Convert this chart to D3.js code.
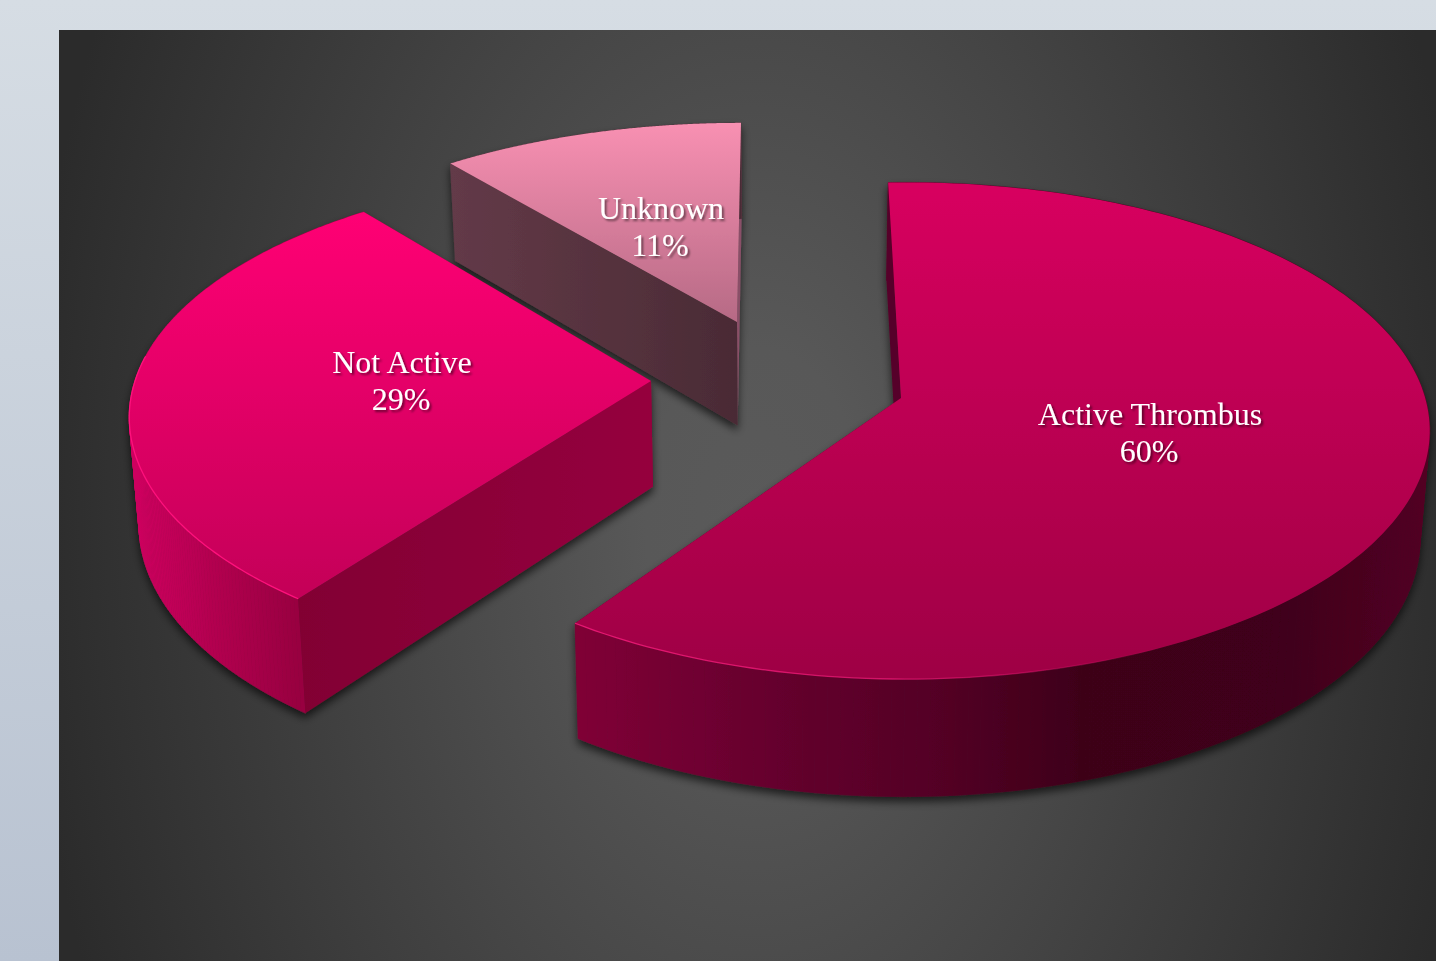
<!DOCTYPE html>
<html>
<head>
<meta charset="utf-8">
<script src="https://cdn.jsdelivr.net/npm/d3@7/dist/d3.min.js"></script>
<style>
  html, body { margin: 0; padding: 0; background: #d0d7e0; overflow: hidden; }
  svg { display: block; }
  text { font-family: "Liberation Serif", "Times New Roman", serif; fill: #fff; }
</style>
</head>
<body>
<svg id="chart" width="1436" height="961"></svg>
<script>
// Chart values
const categories = ["Active Thrombus", "Not Active", "Unknown"];
const shares = [60, 29, 11];

// Drawing styles for each slice, in the order of the categories
const sliceStyles = [
  { apex: [901, 398], center: [906, 391], R: 517, Rf: 242, turn: -0.8,
    top: ["#d8005f", "#9e0044"], topSpan: [182, 680],
    rim: "#f01a78", rimFade: [[576, 0.9], [900, 0.7], [1180, 0]],
    wall: [[576, "#800036"], [800, "#62002c"], [950, "#520024"], [1080, "#3e0019"], [1280, "#3f001a"], [1425, "#520023"]],
    startWall: "#560029", endWall: "#560029", label: [1150, 425] },
  { apex: [651, 381], center: [652, 378], R: 516, Rf: 240, turn: 2.2,
    top: ["#ff0074", "#c40058"], topSpan: [213, 597],
    rim: "#ff107c", rimFade: [[128, 1], [300, 1]],
    wall: [[130, "#d00060"], [210, "#b40050"], [300, "#980040"]],
    startWall: ["#820033", "#95003e"], endWall: "#820033", label: [402, 373] },
  { apex: [737, 322], center: [741, 322], R: 512, Rf: 231, turn: 1.5,
    top: ["#f890b2", "#b66a85"], topSpan: [123, 322],
    rim: "#f79ab8", rimFade: [[449, 0], [740, 0]],
    wall: [[449, "#633a48"], [740, "#4a2b35"]],
    startWall: ["#633a48", "#4a2b35"], endWall: "#8a5068", label: [661, 219] }
];

const startDegrees = -1.5;
const perspective = 0.16;   // how quickly the disc grows towards the viewer
const lineGap = 37;
const radians = Math.PI / 180;

const slices = d3.pie().sort(null)
  .startAngle(startDegrees * radians)
  .endAngle((startDegrees + 360) * radians)(shares);

// Point on the rim of a slice's top face
function topPoint(style, angle) {
  const u = Math.sin(angle);
  const v = -Math.cos(angle);
  const s = 1 / (1 - perspective * v);
  return [style.center[0] + style.R * u * s, style.center[1] + style.Rf * v * s];
}
// The matching point on the underside; verticals converge slightly downward
const dropX = d3.scaleLinear().domain([0, 780]).range([11.7, 780]);
const dropY = d3.scaleLinear().domain([0, 1000]).range([91, 1130]);
const under = ([x, y]) => [dropX(x), dropY(y)];

const svg = d3.select("#chart");
const defs = svg.append("defs");

// Page backdrop
const page = defs.append("linearGradient").attr("id", "page")
  .attr("x1", 0).attr("y1", 0).attr("x2", 0).attr("y2", 1);
page.append("stop").attr("offset", 0).attr("stop-color", "#d6dde4");
page.append("stop").attr("offset", 1).attr("stop-color", "#b8c2d1");

const panel = defs.append("radialGradient").attr("id", "panel")
  .attr("gradientUnits", "userSpaceOnUse")
  .attr("cx", 0).attr("cy", 0).attr("r", 1)
  .attr("gradientTransform", "translate(755,520) scale(730,1150)");
panel.append("stop").attr("offset", 0).attr("stop-color", "#5a5a5a");
panel.append("stop").attr("offset", 0.15).attr("stop-color", "#585858");
panel.append("stop").attr("offset", 1).attr("stop-color", "#2b2b2b");

const shadow = defs.append("filter").attr("id", "shadow")
  .attr("x", "-10%").attr("y", "-10%").attr("width", "120%").attr("height", "125%");
shadow.append("feDropShadow").attr("dx", 0).attr("dy", 5)
  .attr("stdDeviation", 4).attr("flood-color", "#000").attr("flood-opacity", 0.65);

const textShadow = defs.append("filter").attr("id", "textShadow")
  .attr("x", "-10%").attr("y", "-20%").attr("width", "120%").attr("height", "150%");
textShadow.append("feDropShadow").attr("dx", 2).attr("dy", 2)
  .attr("stdDeviation", 1).attr("flood-color", "#000").attr("flood-opacity", 0.5);

function linear(id, x1, y1, x2, y2, stops) {
  const g = defs.append("linearGradient").attr("id", id)
    .attr("gradientUnits", "userSpaceOnUse")
    .attr("x1", x1).attr("y1", y1).attr("x2", x2).attr("y2", y2);
  stops.forEach(([o, c, a = 1]) => g.append("stop").attr("offset", o)
    .attr("stop-color", c).attr("stop-opacity", a));
  return `url(#${id})`;
}

svg.append("rect").attr("width", 1436).attr("height", 961).attr("fill", "url(#page)");
svg.append("rect").attr("x", 59).attr("y", 30).attr("width", 1377).attr("height", 931)
  .attr("fill", "url(#panel)");

const line = d3.line();

// Whether a cut face, with its outward normal at this angle, looks towards the viewer
const facesViewer = normalAngle => -Math.cos(normalAngle) > 0;

// Back to front: the smallest slice sits furthest from the viewer
const order = [2, 1, 0];
order.forEach(i => {
  const d = slices[i];
  const style = sliceStyles[i];
  const a0 = d.startAngle + style.turn * radians;
  const a1 = d.endAngle + style.turn * radians;
  const angles = d3.range(0, 181).map(t => a0 + (a1 - a0) * t / 180);
  const rimPts = angles.map(a => topPoint(style, a));
  const g = svg.append("g").attr("filter", "url(#shadow)");
  const apex = style.apex;

  const cut = (edge, color, id) => {
    const fill = Array.isArray(color)
      ? linear(id, Math.min(edge[0], apex[0]), 0, Math.max(edge[0], apex[0]), 0,
          [[0, color[0]], [1, color[1]]])
      : color;
    g.append("path")
      .attr("d", line([apex, edge, under(edge), under(apex)]) + "Z")
      .attr("fill", fill);
  };
  const cuts = [
    { edge: rimPts[0], color: style.startWall, id: `start${i}`, front: facesViewer(a0 - Math.PI / 2) },
    { edge: rimPts[rimPts.length - 1], color: style.endWall, id: `end${i}`, front: facesViewer(a1 + Math.PI / 2) }
  ];

  // Cut faces turned away from the viewer go underneath everything else
  cuts.filter(c => !c.front).forEach(c => cut(c.edge, c.color, c.id));

  // Curved outer wall, laid down in narrow strips
  const xs = style.wall.map(w => w[0]);
  const wallFill = linear(`wall${i}`, xs[0], 0, xs[xs.length - 1], 0,
    style.wall.map(w => [(w[0] - xs[0]) / (xs[xs.length - 1] - xs[0]), w[1]]));
  g.append("g").selectAll("path").data(d3.pairs(rimPts)).join("path")
    .attr("d", ([p, q]) => line([p, q, under(q), under(p)]) + "Z")
    .attr("fill", wallFill).attr("stroke", wallFill).attr("stroke-width", 0.6);

  cuts.filter(c => c.front).forEach(c => cut(c.edge, c.color, c.id));

  // Top face
  const topFill = linear(`top${i}`, 0, style.topSpan[0], 0, style.topSpan[1],
    [[0, style.top[0]], [1, style.top[1]]]);
  g.append("path").attr("d", line([apex, ...rimPts]) + "Z").attr("fill", topFill);

  // Light catching the near part of the rim
  const near = rimPts.filter((p, j) => Math.cos(angles[j]) < 0.1);
  const fx = style.rimFade.map(f => f[0]);
  const rimStroke = linear(`rim${i}`, fx[0], 0, fx[fx.length - 1], 0,
    style.rimFade.map(f => [(f[0] - fx[0]) / (fx[fx.length - 1] - fx[0]), style.rim, f[1]]));
  svg.append("path").attr("d", line(near)).attr("fill", "none")
    .attr("stroke", rimStroke).attr("stroke-width", 1.3);
});

// Labels
const labels = svg.append("g").attr("filter", "url(#textShadow)")
  .attr("text-anchor", "middle").attr("font-size", 32);
slices.forEach((d, i) => {
  const [x, y] = sliceStyles[i].label;
  labels.append("text").attr("x", x).attr("y", y).text(categories[i]);
  labels.append("text").attr("x", x - 1).attr("y", y + lineGap).text(`${d.value}%`);
});
</script>
</body>
</html>
